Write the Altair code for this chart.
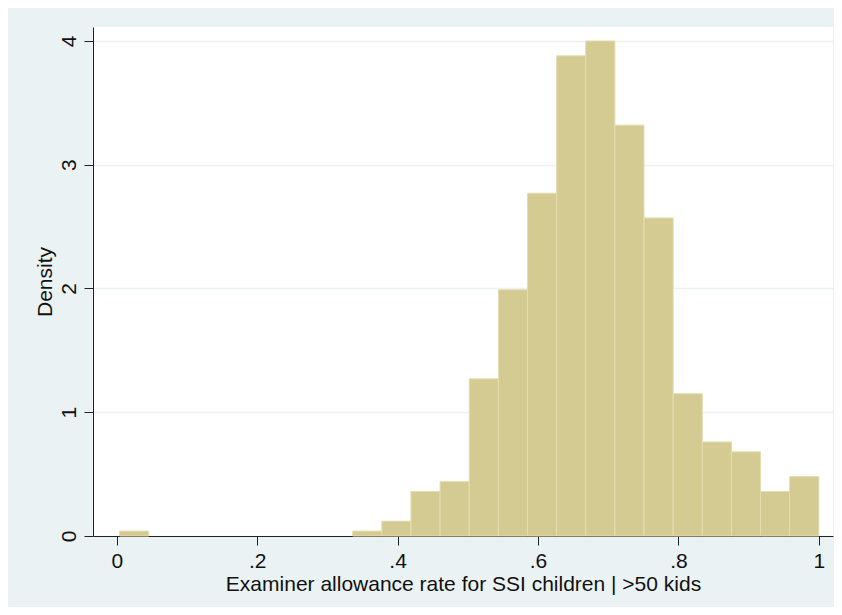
import altair as alt
import pandas as pd

# Histogram bins (lower edge, upper edge) and density heights
bin_lo = [0.004, 0.336, 0.3775, 0.419, 0.4605, 0.502, 0.5435, 0.585, 0.6265,
          0.668, 0.7095, 0.751, 0.7925, 0.834, 0.8755, 0.917, 0.9585]
bin_hi = [0.0455, 0.3775, 0.419, 0.4605, 0.502, 0.5435, 0.585, 0.6265, 0.668,
          0.7095, 0.751, 0.7925, 0.834, 0.8755, 0.917, 0.9585, 1.0]
density = [0.04, 0.04, 0.12, 0.36, 0.44, 1.27, 1.99, 2.77, 3.88,
           4.00, 3.32, 2.57, 1.15, 0.76, 0.68, 0.36, 0.48]

x_ticks = [0, 0.2, 0.4, 0.6, 0.8, 1]
y_ticks = [0, 1, 2, 3, 4]

df = pd.DataFrame({"lo": bin_lo, "hi": bin_hi, "density": density})

FONT = "Liberation Sans"
BG = "#EAF2F3"
FS = 21

bars = alt.Chart(df).mark_rect(
    color="#D4CB92", stroke="#E4DDB2", strokeWidth=1
).encode(
    x=alt.X("lo:Q",
            scale=alt.Scale(domain=[-0.0339, 1.0202], nice=False, zero=False),
            axis=alt.Axis(values=x_ticks,
                          labelExpr="replace(format(datum.value, '.1~f'), '0.', '.')",
                          title="Examiner allowance rate for SSI children | >50 kids",
                          grid=False, tickSize=9, labelPadding=5, titlePadding=2,
                          labelFontSize=FS, titleFontSize=FS, domainColor="#222",
                          tickColor="#222", labelColor="#111", titleColor="#111",
                          labelFont=FONT, titleFont=FONT, titleFontWeight="normal",
                          labelFlush=False)),
    x2="hi:Q",
    y=alt.Y("density:Q",
            scale=alt.Scale(domain=[0, 4.113], nice=False),
            axis=alt.Axis(values=y_ticks, title="Density", grid=True,
                          gridColor=BG, gridWidth=1.5, tickSize=9,
                          labelAngle=270, labelAlign="center", labelBaseline="bottom",
                          labelPadding=5, titlePadding=3,
                          labelFontSize=FS, titleFontSize=FS, domainColor="#222",
                          tickColor="#222", labelColor="#111", titleColor="#111",
                          labelFont=FONT, titleFont=FONT, titleFontWeight="normal")),
    y2=alt.datum(0),
)

chart = bars.properties(
    width=740, height=509,
    background=BG,
    padding={"left": 85, "top": 19, "right": 1, "bottom": 71},
    autosize=alt.AutoSizeParams(type="none"),
).configure_view(fill="white", stroke=None)

chart.save("out.html", embed_options={"renderer": "svg", "actions": False})
